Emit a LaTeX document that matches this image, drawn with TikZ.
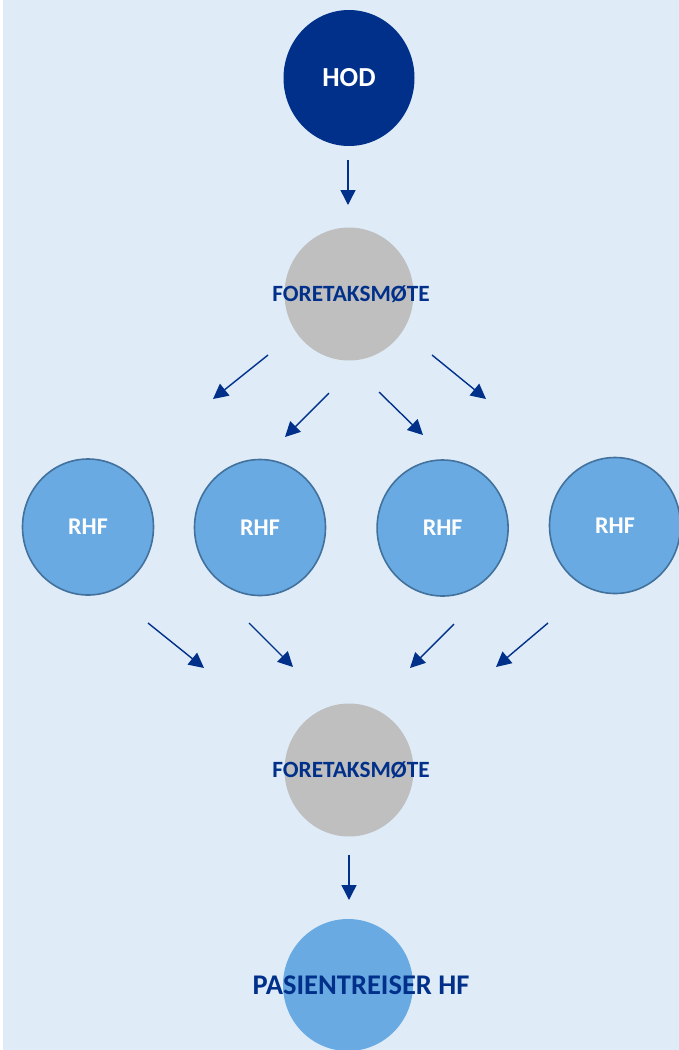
\documentclass[tikz,border=0pt]{standalone}
\usepackage{fontspec}
\setmainfont{Carlito}
\usetikzlibrary{arrows.meta,shapes.geometric}
\definecolor{bgblue}{HTML}{DFECF8}
\definecolor{navy}{HTML}{00308A}
\definecolor{greyc}{HTML}{BFBFBF}
\definecolor{midblue}{HTML}{6AAAE2}
\definecolor{edgeblue}{HTML}{41719C}
\begin{document}
\begin{tikzpicture}[x=1pt,y=-1pt,
  bubble/.style={ellipse,inner sep=0pt,minimum width=131pt,minimum height=136pt,font=\bfseries},
  hodbox/.style={bubble,fill=navy,text=white,font=\bfseries\fontsize{27.5}{27.5}\selectfont},
  meetbox/.style={bubble,fill=greyc,minimum width=129pt,minimum height=133pt,text=navy,font=\bfseries\fontsize{23.3}{23.3}\selectfont},
  rhfbox/.style={bubble,fill=midblue,draw=edgeblue,line width=1.6pt,text=white,font=\bfseries\fontsize{24}{24}\selectfont},
  hfbox/.style={bubble,fill=midblue,minimum width=130pt,minimum height=132pt,text=navy,font=\bfseries\fontsize{28.5}{28.5}\selectfont},
  arr/.style={draw=navy,line width=1.4pt,-{Triangle[length=15pt,width=15pt]}}]
\useasboundingbox (0,0) rectangle (679,1050);
\fill[white] (0,0) rectangle (679,1050);
\begin{scope}
\clip (0,0) rectangle (679,1050);
\fill[bgblue] (3,0) rectangle (679,1050);

\node[hodbox] (hod) at (349,78) {\makebox[0pt]{HOD}};
\node[meetbox] (fm1) at (349,294) {\makebox[0pt]{\hspace*{4pt}FORETAKSMØTE}};
\node[rhfbox] (r1) at (88,527) {\makebox[0pt]{RHF}};
\node[rhfbox] (r2) at (260,527.5) {\makebox[0pt]{RHF}};
\node[rhfbox] (r3) at (442.6,528) {\makebox[0pt]{RHF}};
\node[rhfbox] (r4) at (615,525.5) {\makebox[0pt]{RHF}};
\node[meetbox] (fm2) at (349,770) {\makebox[0pt]{\hspace*{4pt}FORETAKSMØTE}};
\node[hfbox] (hf) at (348,985) {\makebox[0pt]{\hspace*{26pt}PASIENTREISER HF}};

\coordinate (a0s) at (348,160); \coordinate (a0e) at (348,205);
\coordinate (b1s) at (268,355); \coordinate (b1e) at (213,399);
\coordinate (b2s) at (329,393); \coordinate (b2e) at (285,437);
\coordinate (b3s) at (379,392); \coordinate (b3e) at (423,435);
\coordinate (b4s) at (432,355); \coordinate (b4e) at (486,399);
\coordinate (c1s) at (148,623); \coordinate (c1e) at (204,668);
\coordinate (c2s) at (249,623); \coordinate (c2e) at (293,667);
\coordinate (c3s) at (454,624); \coordinate (c3e) at (410,668);
\coordinate (c4s) at (548,623); \coordinate (c4e) at (496,667);
\coordinate (d0s) at (349,855); \coordinate (d0e) at (349,900);

\draw[arr] (a0s) -- (a0e);
\draw[arr] (b1s) -- (b1e);
\draw[arr] (b2s) -- (b2e);
\draw[arr] (b3s) -- (b3e);
\draw[arr] (b4s) -- (b4e);
\draw[arr] (c1s) -- (c1e);
\draw[arr] (c2s) -- (c2e);
\draw[arr] (c3s) -- (c3e);
\draw[arr] (c4s) -- (c4e);
\draw[arr] (d0s) -- (d0e);
\end{scope}
\end{tikzpicture}
\end{document}
